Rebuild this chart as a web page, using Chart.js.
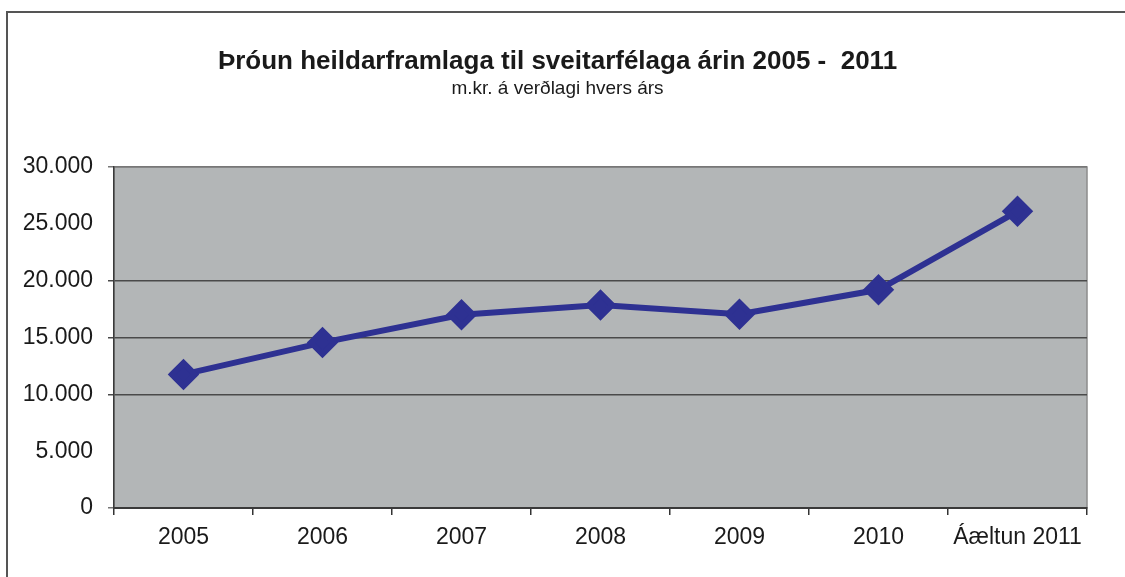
<!DOCTYPE html>
<html>
<head>
<meta charset="utf-8">
<script src="https://cdn.jsdelivr.net/npm/chart.js@4"></script>
<style>
  html, body { margin: 0; padding: 0; background: #fff; }
  #wrap { position: relative; width: 1125px; height: 577px; }
  #frame { position: absolute; left: 6px; top: 11px; right: 0; bottom: 0; border-top: 2px solid #555; border-left: 2px solid #555; }
  canvas { position: absolute; left: 0; top: 0; }
</style>
</head>
<body>
<div id="wrap">
  <div id="frame"></div>
  <canvas id="chart" width="1125" height="577"></canvas>
</div>
<script>
// Heildarframlög til sveitarfélaga, m.kr.
const years = ['2005', '2006', '2007', '2008', '2009', '2010', 'Áæltun 2011'];
const framlog = [11750, 14550, 17000, 17850, 17050, 19200, 26100];
const yTicks = [0, 5000, 10000, 15000, 20000, 25000, 30000];
const gridShown = [10000, 15000, 20000];

const FONT = '"Liberation Sans", Arial, sans-serif';
const INK = '#1a1a1a';

// grey plot area with a thin border, like the old spreadsheet chart
const plotBg = {
  id: 'plotBg',
  beforeDraw(c) {
    const a = c.chartArea, x = c.ctx;
    x.save();
    x.fillStyle = '#b3b6b7';
    x.fillRect(a.left, a.top, a.right - a.left, a.bottom - a.top);
    x.strokeStyle = '#8c8c8c';
    x.lineWidth = 1.5;
    x.strokeRect(a.left, a.top, a.right - a.left, a.bottom - a.top);
    x.restore();
  },
};

const fmt = (v) => String(v).replace(/\B(?=(\d{3})+(?!\d))/g, '.');

new Chart(document.getElementById('chart'), {
  type: 'line',
  data: {
    labels: years,
    datasets: [{
      data: framlog,
      borderColor: '#2e3192',
      backgroundColor: '#2e3192',
      borderWidth: 6,
      pointStyle: 'rectRot',
      pointRadius: 11.5,
      pointHoverRadius: 11.5,
      tension: 0,
    }],
  },
  options: {
    responsive: false,
    animation: false,
    events: [],
    layout: { padding: { top: 0, right: 10, bottom: 0, left: 0 } },
    plugins: {
      legend: { display: false },
      tooltip: { enabled: false },
      title: {
        display: true,
        text: 'Þróun heildarframlaga til sveitarfélaga árin 2005 -  2011',
        color: INK,
        font: { family: FONT, size: 26, weight: 'bold' },
        padding: { top: 46, bottom: 0 },
      },
      subtitle: {
        display: true,
        text: 'm.kr. á verðlagi hvers árs',
        color: INK,
        font: { family: FONT, size: 19 },
        padding: { top: 0, bottom: 67 },
      },
    },
    scales: {
      x: {
        offset: true,
        afterFit: (s) => { s.height = 69; },
        grid: { offset: true, drawOnChartArea: false, drawTicks: true, tickLength: 7, color: '#333', lineWidth: 1.5 },
        border: { display: true, color: '#3a3a3a', width: 2 },
        ticks: { color: INK, font: { family: FONT, size: 23 }, padding: 9, maxRotation: 0, autoSkip: false },
      },
      y: {
        min: 0,
        max: 30000,
        afterFit: (s) => { s.width = 114; },
        afterBuildTicks: (s) => { s.ticks = yTicks.map((v) => ({ value: v })); },
        grid: {
          color: (ctx) => {
            const v = ctx.tick && ctx.tick.value;
            if (gridShown.includes(v)) return '#4a4a4a';
            if (v === 30000 || v === 0) return '#777';
            return 'rgba(0,0,0,0)';
          },
          lineWidth: 1.5,
          tickLength: 6,
        },
        border: { display: true, color: '#3a3a3a', width: 1.5 },
        ticks: { color: INK, font: { family: FONT, size: 23 }, padding: 15, callback: (v) => fmt(v) },
      },
      // empty right-hand strip so the title centres like the original
      yr: {
        position: 'right',
        afterFit: (s) => { s.width = 28; },
        grid: { display: false },
        border: { display: false },
        ticks: { display: false },
      },
    },
  },
  plugins: [plotBg],
});
</script>
</body>
</html>
